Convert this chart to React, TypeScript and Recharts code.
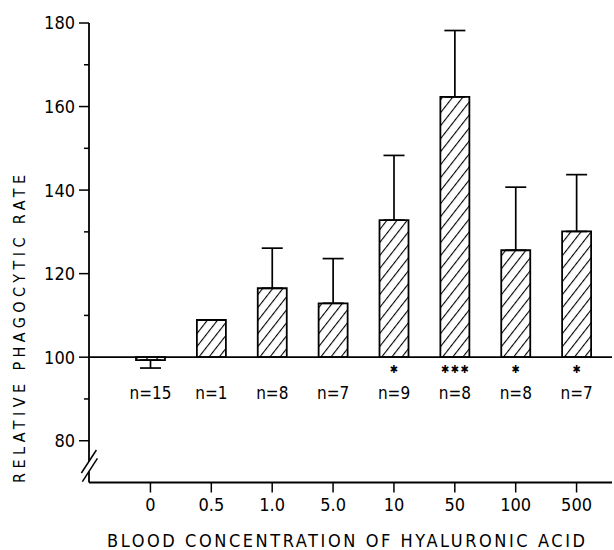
import { BarChart, Bar, XAxis, YAxis, ErrorBar, ReferenceLine, LabelList, Label } from 'recharts';

const FONT = '"Liberation Sans Narrow", "DejaVu Sans Condensed", "Arial Narrow", sans-serif';

// blood concentration groups and their mean relative phagocytic rate
const concentrations = ['0', '0.5', '1.0', '5.0', '10', '50', '100', '500'];
const rates = [99.3, 108.9, 116.5, 112.9, 132.8, 162.3, 125.6, 130.1];
const errDown = [1.9, 0, 0, 0, 0, 0, 0, 0];
const errUp = [0, 0, 9.6, 10.7, 15.5, 15.9, 15.1, 13.6];
const sampleSizes = [15, 1, 8, 7, 9, 8, 8, 7];
const significance = [0, 0, 0, 0, 1, 3, 1, 1];
const yTicks = [70, 80, 90, 100, 110, 120, 130, 140, 150, 160, 170, 180];
const BASELINE = 100;

const data = concentrations.map((conc, i) => ({
  conc,
  range: [BASELINE, rates[i]],
  err: [errDown[i], errUp[i]],
  n: sampleSizes[i],
}));

function YTick({ x, y, payload }: any) {
  const v = payload.value;
  if (v === 70) {
    // axis break
    return (
      <g stroke="#000" strokeWidth={1.5}>
        <rect x={x - 3} y={y - 21} width={6} height={10} fill="#fff" stroke="none" />
        <line x1={x - 7.6} y1={y - 9.5} x2={x + 7.4} y2={y - 32.5} />
        <line x1={x - 6.6} y1={y - 0.8} x2={x + 8.4} y2={y - 24.2} />
      </g>
    );
  }
  const major = v % 20 === 0;
  return (
    <g>
      <line x1={x - (major ? 10 : 5)} y1={y} x2={x} y2={y} stroke="#000" strokeWidth={1.5} />
      {major && (
        <text x={x - 14} y={y} dy="0.36em" textAnchor="end" fontSize={18} fill="#000" fontFamily={FONT}>
          {v}
        </text>
      )}
    </g>
  );
}

function BarNote(props: any) {
  const vb = props.viewBox ?? props;
  const cx = vb.x + vb.width / 2;
  const base = vb.y + vb.height;
  const count = significance[props.index];
  return (
    <g fontFamily={FONT} fill="#000">
      {count > 0 && (
        <text
          x={cx}
          y={base + 12}
          dominantBaseline="central"
          textAnchor="middle"
          fontSize={11}
          {...(count > 1 ? { textLength: 28, lengthAdjust: 'spacing' } : {})}
        >
          {'✱'.repeat(count)}
        </text>
      )}
      <text x={cx} y={base + 41.4} textAnchor="middle" fontSize={17}>
        {`n=${props.value}`}
      </text>
    </g>
  );
}

function YTitle() {
  return (
    <text
      x={25}
      y={329}
      transform="rotate(-90 25 329)"
      textAnchor="middle"
      fontSize={16}
      textLength={308}
      lengthAdjust="spacing"
      fill="#000"
      fontFamily={FONT}
    >
      RELATIVE PHAGOCYTIC RATE
    </text>
  );
}

function XTitle() {
  return (
    <text
      x={346}
      y={547}
      textAnchor="middle"
      fontSize={18}
      textLength={478}
      lengthAdjust="spacing"
      fill="#000"
      fontFamily={FONT}
    >
      BLOOD CONCENTRATION OF HYALURONIC ACID
    </text>
  );
}

export default function App() {
  return (
    <div style={{ position: 'absolute', left: 0, top: 0, background: '#fff' }}>
      <BarChart
        width={614}
        height={550}
        data={data}
        margin={{ top: 23, right: 2, bottom: 1.5, left: 0 }}
        style={{ fontFamily: FONT }}
      >
        <defs>
          <pattern id="hatch" patternUnits="userSpaceOnUse" width={8} height={8} patternTransform="rotate(38)">
            <rect width={8} height={8} fill="#fff" />
            <line x1={0} y1={0} x2={0} y2={8} stroke="#000" strokeWidth={2.2} />
          </pattern>
        </defs>
        <XAxis
          dataKey="conc"
          interval={0}
          height={66}
          padding={{ left: 31, right: 5 }}
          tickSize={10}
          tickMargin={6}
          axisLine={{ stroke: '#000', strokeWidth: 1.8 }}
          tickLine={{ stroke: '#000', strokeWidth: 1.5 }}
          tick={{ fill: '#000', fontSize: 18, fontFamily: FONT }}
        >
          <Label content={<XTitle />} />
        </XAxis>
        <YAxis
          type="number"
          domain={[70, 180]}
          ticks={yTicks}
          interval={0}
          allowDataOverflow
          width={89}
          tickSize={0}
          tickMargin={0}
          tickLine={false}
          axisLine={{ stroke: '#000', strokeWidth: 1.8 }}
          tick={<YTick />}
        >
          <Label content={<YTitle />} />
        </YAxis>
        <Bar
          dataKey="range"
          barSize={29}
          fill="url(#hatch)"
          stroke="#000"
          strokeWidth={1.8}
          isAnimationActive={false}
        >
          <ErrorBar dataKey="err" direction="y" width={10.5} stroke="#000" strokeWidth={1.7} isAnimationActive={false} />
          <LabelList dataKey="n" content={<BarNote />} />
        </Bar>
        <ReferenceLine y={BASELINE} stroke="#000" strokeWidth={1.8} />
      </BarChart>
    </div>
  );
}
